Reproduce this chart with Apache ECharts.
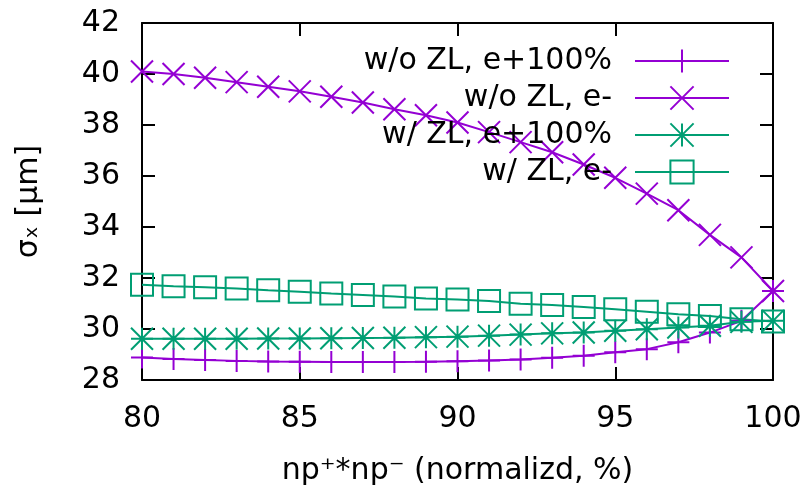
<!DOCTYPE html>
<html>
<head>
<meta charset="utf-8">
<script src="https://cdn.jsdelivr.net/npm/echarts@6/dist/echarts.min.js"></script>
<style>
  html, body { margin: 0; padding: 0; background: #fff; }
  #chart { width: 811px; height: 491px; }
</style>
</head>
<body>
<div id="chart"></div>
<script>
// Beam size sigma_x versus normalized np+*np- for the four configurations
const xValues = [80, 81, 82, 83, 84, 85, 86, 87, 88, 89, 90, 91, 92, 93, 94, 95, 96, 97, 98, 99, 100];

const woZL_ePlus100 = [28.88, 28.82, 28.78, 28.75, 28.73, 28.72, 28.71, 28.71, 28.71, 28.72,
                       28.74, 28.76, 28.80, 28.87, 28.95, 29.09, 29.21, 29.48, 29.86, 30.32, 31.49];
const woZL_eMinus   = [40.10, 40.00, 39.85, 39.68, 39.50, 39.32, 39.11, 38.88, 38.62, 38.38,
                       38.10, 37.72, 37.33, 36.93, 36.45, 35.93, 35.31, 34.66, 33.69, 32.81, 31.49];
const wZL_ePlus100  = [29.62, 29.62, 29.62, 29.62, 29.63, 29.63, 29.64, 29.65, 29.66, 29.68,
                       29.70, 29.74, 29.78, 29.83, 29.86, 29.93, 29.99, 30.06, 30.13, 30.28, 30.32];
const wZL_eMinus    = [31.74, 31.68, 31.64, 31.59, 31.52, 31.46, 31.39, 31.33, 31.27, 31.20,
                       31.16, 31.10, 30.99, 30.94, 30.86, 30.77, 30.68, 30.58, 30.51, 30.38, 30.29];

const seriesNames = ['w/o ZL, e+100%', 'w/o ZL, e-', 'w/ ZL, e+100%', 'w/ ZL, e-'];
const xTitle = 'np\u207A*np\u207B (normalizd, %)';
const yTitle = '\u03C3\u2093 [\u03BCm]';

const PURPLE = '#9400d3';
const GREEN = '#009e73';
const FONT = 'DejaVu Sans';
const FONT_SIZE = 30;

// point shapes drawn as stroked paths
const SYM_PLUS = 'path://M1,0L1,2M0,1L2,1';
const SYM_CROSS = 'path://M0,0L2,2M2,0L0,2';
const SYM_STAR = 'path://M1,0L1,2M0,1L2,1M0,0L2,2M2,0L0,2';
const SYM_SQUARE = 'path://M0,0L2,0L2,2L0,2Z';

function pairs(ys) { return xValues.map((x, i) => [x, ys[i]]); }

function makeSeries(name, ys, color, symbol) {
  return {
    name: name,
    type: 'line',
    data: pairs(ys),
    clip: false,
    symbol: symbol,
    symbolSize: 22,
    showAllSymbol: true,
    lineStyle: { color: color, width: 2 },
    itemStyle: { color: 'rgba(0,0,0,0)', borderColor: color, borderWidth: 2 },
    emphasis: { disabled: true },
    z: 3
  };
}

const chart = echarts.init(document.getElementById('chart'), null, { renderer: 'canvas' });

const axisLineStyle = { color: '#000', width: 2 };
const textStyle = { fontSize: FONT_SIZE, fontFamily: FONT, color: '#000' };

chart.setOption({
  animation: false,
  backgroundColor: '#fff',
  grid: { left: 142, right: 38, top: 23, bottom: 108 },
  legend: {
    orient: 'vertical',
    align: 'right',
    right: 76,
    top: 41,
    itemWidth: 94,
    itemHeight: 29,
    itemGap: 7,
    selectedMode: false,
    textStyle: Object.assign({ lineHeight: 29, padding: [0, 18, 0, 0] }, textStyle),
    data: seriesNames
  },
  xAxis: [
    {
      type: 'value', min: 80, max: 100, interval: 5, position: 'bottom',
      name: xTitle, nameLocation: 'middle', nameGap: 76,
      nameTextStyle: textStyle,
      axisLine: { show: true, lineStyle: axisLineStyle },
      axisTick: { show: true, inside: true, length: 13, lineStyle: axisLineStyle },
      axisLabel: Object.assign({ margin: 24 }, textStyle),
      splitLine: { show: false }
    },
    {
      type: 'value', min: 80, max: 100, interval: 5, position: 'top',
      axisLine: { show: true, lineStyle: axisLineStyle },
      axisTick: { show: true, inside: true, length: 13, lineStyle: axisLineStyle },
      axisLabel: { show: false },
      splitLine: { show: false }
    }
  ],
  yAxis: [
    {
      type: 'value', min: 28, max: 42, interval: 2, position: 'left',
      name: yTitle, nameLocation: 'middle', nameGap: 98,
      nameTextStyle: textStyle,
      axisLine: { show: true, lineStyle: axisLineStyle },
      axisTick: { show: true, inside: true, length: 13, lineStyle: axisLineStyle },
      axisLabel: Object.assign({ margin: 22 }, textStyle),
      splitLine: { show: false }
    },
    {
      type: 'value', min: 28, max: 42, interval: 2, position: 'right',
      axisLine: { show: true, lineStyle: axisLineStyle },
      axisTick: { show: true, inside: true, length: 13, lineStyle: axisLineStyle },
      axisLabel: { show: false },
      splitLine: { show: false }
    }
  ],
  series: [
    makeSeries(seriesNames[0], woZL_ePlus100, PURPLE, SYM_PLUS),
    makeSeries(seriesNames[1], woZL_eMinus, PURPLE, SYM_CROSS),
    makeSeries(seriesNames[2], wZL_ePlus100, GREEN, SYM_STAR),
    makeSeries(seriesNames[3], wZL_eMinus, GREEN, SYM_SQUARE)
  ]
});
</script>
</body>
</html>
